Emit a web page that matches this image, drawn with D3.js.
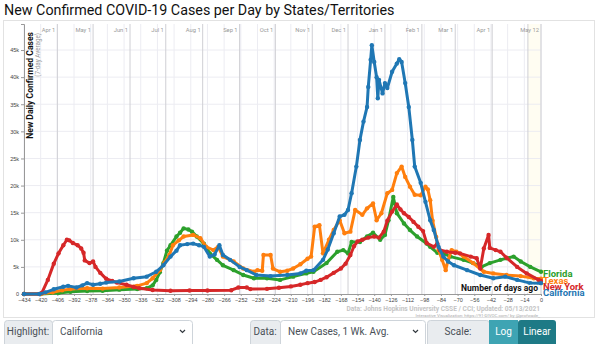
<!DOCTYPE html>
<html>
<head>
<meta charset="utf-8">
<script src="https://cdn.jsdelivr.net/npm/d3@7"></script>
<style>
body { margin: 0; background: #fff; }
svg { display: block; font-family: Roboto, "Liberation Sans", sans-serif; }
</style>
</head>
<body>
<svg id="chart" width="600" height="344"></svg>
<script>
// values: [days ago, new cases (7-day avg)]
var florida = [[-434,0],[-420,0],[-405,200],[-395,400],[-381,550],[-368,600],[-354,800],[-339,900],[-331,1050],[-326,1600],[-323,2600],[-320,4000],[-317,5700],[-314,8000],[-311,9000],[-306,10600],[-303,11300],[-300,12100],[-296,11900],[-293,11500],[-289,10600],[-283,9300],[-278,7500],[-272,6300],[-267,5300],[-258,4400],[-250,3500],[-241,2900],[-230,2900],[-219,2600],[-208,3200],[-197,3800],[-191,4100],[-180,5700],[-171,7800],[-166,8100],[-162,7500],[-159,9600],[-152,9600],[-146,10600],[-141,11300],[-135,10000],[-131,10900],[-128,13600],[-124,17900],[-121,14900],[-115,13000],[-110,11800],[-104,10600],[-96,9300],[-93,8700],[-87,7600],[-85,7800],[-76,6900],[-65,6300],[-57,5700],[-50,5000],[-43,5700],[-34,6300],[-29,6600],[-23,6900],[-17,6000],[-9,5000],[0,4100]];

var texas = [[-434,0],[-420,0],[-410,300],[-402,700],[-395,900],[-381,1050],[-368,1000],[-354,1200],[-339,1500],[-331,2000],[-326,2900],[-320,4400],[-316,5800],[-312,7200],[-309,9000],[-304,9900],[-300,10600],[-292,10900],[-286,10300],[-281,8700],[-275,8100],[-271,8700],[-267,6900],[-258,6000],[-250,4700],[-241,4100],[-238,4400],[-234,4300],[-233,7200],[-227,7200],[-225,4700],[-219,4100],[-213,4300],[-208,4700],[-202,5500],[-196,6500],[-193,6900],[-190,12400],[-186,12700],[-183,7500],[-178,10000],[-174,11800],[-169,13600],[-165,11200],[-160,11500],[-156,15500],[-150,14600],[-146,15800],[-141,16700],[-138,13600],[-134,14900],[-129,18600],[-125,19200],[-121,22300],[-117,23500],[-114,21600],[-110,19800],[-106,18300],[-101,18200],[-97,19800],[-95,19300],[-93,17300],[-91,13500],[-88,10500],[-86,8100],[-83,6300],[-80,4400],[-78,6300],[-75,8100],[-71,7800],[-65,6900],[-57,5700],[-48,4100],[-40,3800],[-29,3500],[-17,3300],[-6,2900],[0,2800]];

var newYork = [[-434,0],[-421,0],[-419,200],[-414,2600],[-409,5600],[-405,7500],[-401,9000],[-398,10000],[-396,9900],[-393,9400],[-389,9000],[-386,8400],[-384,7600],[-383,6200],[-379,5700],[-376,6000],[-374,5000],[-370,3900],[-365,2800],[-360,2400],[-356,2100],[-348,1700],[-342,1300],[-337,1050],[-326,750],[-311,600],[-295,650],[-280,650],[-260,700],[-254,1200],[-247,1200],[-244,900],[-230,950],[-220,1150],[-210,1400],[-202,1700],[-196,2000],[-190,2200],[-185,2600],[-180,3100],[-174,3900],[-168,4700],[-164,5600],[-160,7200],[-157,8800],[-154,9700],[-150,10000],[-145,10400],[-140,10600],[-136,10400],[-132,11500],[-129,13500],[-125,15200],[-121,16500],[-118,15600],[-115,14900],[-111,14200],[-107,13300],[-103,12400],[-99,11600],[-96,9400],[-90,8700],[-87,9300],[-85,8100],[-79,7800],[-72,7600],[-68,7500],[-59,6900],[-54,6600],[-51,4700],[-48,8400],[-44,10900],[-43,8500],[-38,8100],[-34,7800],[-29,6700],[-20,5000],[-12,3800],[-2,2600],[0,2400]];

var california = [[-434,0],[-421,0],[-416,300],[-409,870],[-401,1350],[-397,1500],[-390,1200],[-385,1600],[-381,2000],[-376,1700],[-370,1900],[-365,2100],[-354,2300],[-342,2900],[-331,3200],[-323,4100],[-317,5300],[-311,6900],[-306,8000],[-303,9000],[-297,9200],[-292,9300],[-287,9000],[-283,8700],[-278,6900],[-274,7300],[-270,9000],[-267,7200],[-261,6300],[-253,5000],[-247,4400],[-239,3500],[-227,3300],[-213,3500],[-202,3800],[-197,4300],[-191,4400],[-183,6300],[-179,8200],[-174,11200],[-169,14300],[-165,14600],[-162,15500],[-159,18600],[-155,23500],[-152,28400],[-149,31800],[-146,34500],[-145,38200],[-143,43200],[-142,45900],[-140,42800],[-138,40000],[-137,36100],[-136,39500],[-133,37000],[-131,38900],[-129,38000],[-125,41000],[-121,42500],[-119,43300],[-117,42800],[-114,38900],[-111,34500],[-108,28400],[-106,23500],[-101,20500],[-97,17000],[-93,13600],[-90,11800],[-86,8700],[-82,6900],[-78,6000],[-73,5300],[-62,4400],[-51,3500],[-40,2900],[-30,3200],[-20,2600],[-9,2000],[0,2000]];

var stateNames = ["Florida", "Texas", "New York", "California"];
var stateColors = ["#2ca02c", "#ff7f0e", "#d62728", "#1f77b4"];
var stateData = [florida, texas, newYork, california];

var dayTicks = [-434,-420,-406,-392,-378,-364,-350,-336,-322,-308,-294,-280,-266,-252,-238,-224,-210,-196,-182,-168,-154,-140,-126,-112,-98,-84,-70,-56,-42,-28,-14,0];
var caseTicks = [0,5000,10000,15000,20000,25000,30000,35000,40000,45000];
var monthDays = [-406,-376,-345,-315,-284,-253,-223,-192,-162,-131,-100,-72,-41,-11,0];
var monthLabels = ["Apr 1","May 1","Jun 1","Jul 1","Aug 1","Sep 1","Oct 1","Nov 1","Dec 1","Jan 1","Feb 1","Mar 1","Apr 1","","May 12"];

var svg = d3.select("#chart");
var plotLeft = 24, plotRight = 541, plotTop = 24, plotBottom = 294;

var x = d3.scaleLinear().domain([-434, 0]).range([plotLeft, plotRight]);
var y = d3.scaleLinear().domain([0, 49800]).range([plotBottom, plotTop]);

// title
svg.append("text")
    .attr("x", 4).attr("y", 15)
    .style("font-size", "14.3px")
    .attr("fill", "#111")
    .text("New Confirmed COVID-19 Cases per Day by States/Territories");

// panel
svg.append("rect")
    .attr("x", 3.5).attr("y", 20.5)
    .attr("width", 591).attr("height", 297)
    .attr("fill", "none").attr("stroke", "#e2e2e2");

// recent days band
svg.append("rect")
    .attr("x", x(-11)).attr("y", plotTop)
    .attr("width", x(0) - x(-11)).attr("height", plotBottom - plotTop)
    .attr("fill", "#fffdf2");

// grid
var grid = svg.append("g");
grid.selectAll(".hgrid")
    .data(caseTicks.slice(1))
  .enter().append("line")
    .attr("x1", plotLeft).attr("x2", plotRight)
    .attr("y1", function(d) { return y(d); })
    .attr("y2", function(d) { return y(d); })
    .attr("stroke", "#ececf2");

grid.selectAll(".vgrid")
    .data(dayTicks)
  .enter().append("line")
    .attr("x1", function(d) { return x(d); })
    .attr("x2", function(d) { return x(d); })
    .attr("y1", plotTop).attr("y2", plotBottom)
    .attr("stroke", "#ececf2");

grid.selectAll(".mgrid")
    .data(monthDays)
  .enter().append("line")
    .attr("x1", function(d) { return x(d); })
    .attr("x2", function(d) { return x(d); })
    .attr("y1", plotTop).attr("y2", plotBottom)
    .attr("stroke", "#cfcfd4");

svg.append("g")
    .selectAll("text")
    .data(monthDays)
  .enter().append("text")
    .attr("x", function(d) { return x(d) - 2; })
    .attr("y", 32)
    .attr("text-anchor", "end")
    .style("font-size", "5.8px")
    .attr("fill", "#999")
    .text(function(d, i) { return monthLabels[i]; });

// axes
var xAxis = d3.axisBottom(x).tickValues(dayTicks).tickSizeOuter(0).tickSize(2).tickPadding(2);
var yAxis = d3.axisLeft(y).tickValues(caseTicks).tickSizeOuter(0).tickSize(3).tickPadding(2)
    .tickFormat(function(d) { return d == 0 ? "0" : (d / 1000) + "k"; });

var gx = svg.append("g")
    .attr("transform", "translate(0," + plotBottom + ")")
    .call(xAxis);
var gy = svg.append("g")
    .attr("transform", "translate(" + plotLeft + ",0)")
    .call(yAxis);

gx.select(".domain").attr("stroke", "#999");
gy.select(".domain").attr("stroke", "#999");
gx.selectAll(".tick line").attr("stroke", "#999");
gy.selectAll(".tick line").attr("stroke", "#999");
gx.selectAll("text").style("font-size", "5.5px").attr("fill", "#444").attr("font-family", null);
gy.selectAll("text").style("font-size", "5.5px").attr("fill", "#444").attr("font-family", null);

// y title
svg.append("text")
    .attr("transform", "translate(33,32) rotate(-90)")
    .attr("text-anchor", "end")
    .style("font-size", "8.6px").style("font-weight", "bold")
    .attr("fill", "#111")
    .text("New Daily Confirmed Cases");
svg.append("text")
    .attr("transform", "translate(39.5,33) rotate(-90)")
    .attr("text-anchor", "end")
    .style("font-size", "6.3px")
    .attr("fill", "#999")
    .text("(7-day Average)");

// series
var line = d3.line()
    .x(function(d) { return x(d[0]); })
    .y(function(d) { return y(d[1]); });

stateData.forEach(function(data, i) {
  var g = svg.append("g");
  g.append("path")
      .datum(data)
      .attr("fill", "none")
      .attr("stroke", stateColors[i])
      .attr("stroke-width", 3)
      .attr("stroke-linejoin", "round")
      .attr("d", line);
  g.selectAll("circle")
      .data(data)
    .enter().append("circle")
      .attr("cx", function(d) { return x(d[0]); })
      .attr("cy", function(d) { return y(d[1]); })
      .attr("r", 2.2)
      .attr("fill", stateColors[i]);
});

// x label
svg.append("text")
    .attr("x", 538).attr("y", 291)
    .attr("text-anchor", "end")
    .style("font-size", "8.5px").style("font-weight", "bold")
    .attr("fill", "#111")
    .attr("stroke", "#fff").attr("stroke-width", 2.5)
    .style("paint-order", "stroke")
    .text("Number of days ago");

// labels at line ends
var labelY = [277, 283.5, 289.5, 296];
svg.append("g")
    .selectAll("text")
    .data(stateNames)
  .enter().append("text")
    .attr("x", 543)
    .attr("y", function(d, i) { return labelY[i]; })
    .style("font-size", "9.5px").style("font-weight", "bold")
    .attr("fill", function(d, i) { return stateColors[i]; })
    .text(function(d) { return d; });

// source
svg.append("text")
    .attr("x", 540).attr("y", 311)
    .attr("text-anchor", "end")
    .style("font-size", "6.6px").style("font-weight", "bold")
    .attr("fill", "#c4c4c4")
    .text("Data: Johns Hopkins University CSSE / CCI; Updated: 05/13/2021");
svg.append("text")
    .attr("x", 540).attr("y", 316.5)
    .attr("text-anchor", "end")
    .style("font-size", "4.4px")
    .attr("fill", "#aaa")
    .text("Interactive Visualization: https://91-DIVOC.com/ by @profwade_");

// controls
function addLabel(x0, w, txt) {
  svg.append("rect")
      .attr("x", x0 + 0.5).attr("y", 320.5).attr("width", w).attr("height", 28).attr("rx", 3)
      .attr("fill", "#e9ecef").attr("stroke", "#ced4da");
  svg.append("text")
      .attr("x", x0 + w / 2).attr("y", 334.5)
      .attr("text-anchor", "middle")
      .style("font-size", "10px").attr("fill", "#495057")
      .text(txt);
}
function addSelect(x0, w, txt) {
  svg.append("rect")
      .attr("x", x0 + 0.5).attr("y", 320.5).attr("width", w).attr("height", 28).attr("rx", 3)
      .attr("fill", "#fff").attr("stroke", "#ced4da");
  svg.append("text")
      .attr("x", x0 + 8).attr("y", 334.5)
      .style("font-size", "10px").attr("fill", "#495057")
      .text(txt);
  svg.append("path")
      .attr("d", "M" + (x0 + w - 12) + ",330 l2.5,2.5 l2.5,-2.5")
      .attr("fill", "none").attr("stroke", "#343a40").attr("stroke-width", 1.2);
}
addLabel(4, 48, "Highlight:");
addSelect(52, 140, "California");
addLabel(250, 30, "Data:");
addSelect(280, 145, "New Cases, 1 Wk. Avg.");
addLabel(427, 62, "Scale:");

svg.append("rect").attr("x", 489).attr("y", 320).attr("width", 29).attr("height", 29).attr("fill", "#3ea4b3");
svg.append("rect").attr("x", 518).attr("y", 320).attr("width", 38).attr("height", 29).attr("rx", 3).attr("fill", "#1e7a86");
svg.append("text").attr("x", 503.5).attr("y", 334.5).attr("text-anchor", "middle")
    .style("font-size", "10px").attr("fill", "#fff").text("Log");
svg.append("text").attr("x", 537).attr("y", 334.5).attr("text-anchor", "middle")
    .style("font-size", "10px").attr("fill", "#fff").text("Linear");
</script>
</body>
</html>
